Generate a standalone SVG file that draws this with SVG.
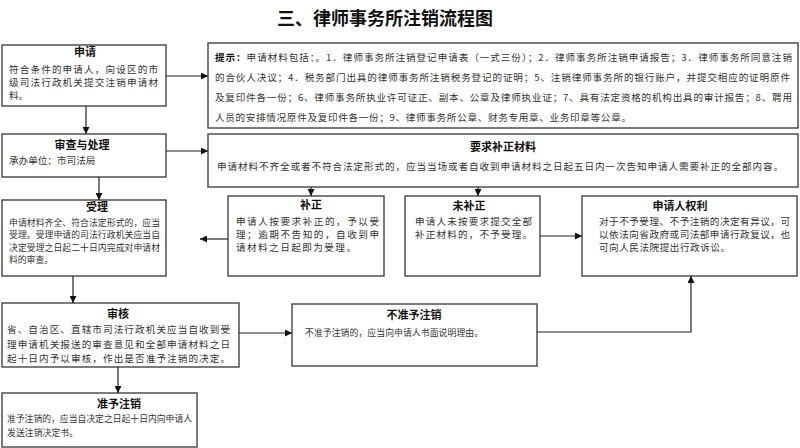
<svg xmlns="http://www.w3.org/2000/svg" width="800" height="448" viewBox="0 0 800 448">
<defs>
<marker id="arr" viewBox="0 0 10 10" refX="10" refY="5" markerWidth="7" markerHeight="7" markerUnits="userSpaceOnUse" orient="auto">
<path d="M0,0 L10,5 L0,10 z" fill="#111"/>
</marker>
<style>
.box{fill:#fff;stroke:#444;stroke-width:1.4}
.t{font-family:"Noto Sans CJK SC","Liberation Sans",sans-serif;font-size:11px;font-weight:bold;fill:#111;text-anchor:middle}
.b{font-family:"Noto Sans CJK SC","Liberation Sans",sans-serif;font-size:9.6px;fill:#333}
.s{font-size:8.8px}
.c{fill:none;stroke:#222;stroke-width:1.2}
.title{font-family:"Noto Sans CJK SC","Liberation Sans",sans-serif;font-size:18px;font-weight:bold;fill:#111;text-anchor:middle}
</style>
</defs>
<rect width="800" height="448" fill="#fff"/>
<text class="title" x="385" y="25">三、律师事务所注销流程图</text>

<g id="apply">
<rect class="box" x="2" y="45" width="164" height="61"/>
<text class="t" x="85" y="56">申请</text>
<text class="b" x="9" y="73" textLength="149" lengthAdjust="spacing">符合条件的申请人，向设区的市</text>
<text class="b" x="9" y="86" textLength="149" lengthAdjust="spacing">级司法行政机关提交注销申请材</text>
<text class="b" x="9" y="99">料。</text>
</g>

<g id="hint">
<rect class="box" x="208" y="43" width="590" height="85"/>
<text class="b" x="215" y="61" textLength="577" lengthAdjust="spacing"><tspan font-weight="bold" fill="#111">提示：</tspan>申请材料包括：。1．律师事务所注销登记申请表（一式三份）；2．律师事务所注销申请报告；3．律师事务所同意注销</text>
<text class="b" x="215" y="81" textLength="575" lengthAdjust="spacing">的合伙人决议；4．税务部门出具的律师事务所注销税务登记的证明；5、注销律师事务所的银行账户，并提交相应的证明原件</text>
<text class="b" x="215" y="101" textLength="577" lengthAdjust="spacing">及复印件各一份；6、律师事务所执业许可证正、副本、公章及律师执业证；7、具有法定资格的机构出具的审计报告；8、聘用</text>
<text class="b" x="215" y="121" textLength="416" lengthAdjust="spacing">人员的安排情况原件及复印件各一份；9、律师事务所公章、财务专用章、业务印章等公章。</text>
</g>

<g id="review">
<rect class="box" x="2" y="134" width="164" height="43"/>
<text class="t" x="82" y="149">审查与处理</text>
<text class="b" x="9" y="164">承办单位：市司法局</text>
</g>

<g id="require">
<rect class="box" x="208" y="134" width="590" height="53"/>
<text class="t" x="503" y="151">要求补正材料</text>
<text class="b" x="217" y="170" textLength="566" lengthAdjust="spacing">申请材料不齐全或者不符合法定形式的，应当当场或者自收到申请材料之日起五日内一次告知申请人需要补正的全部内容。</text>
</g>

<g id="accept">
<rect class="box" x="2" y="200" width="164" height="76"/>
<text class="t" x="97" y="211">受理</text>
<text class="b s" x="9" y="226" textLength="151" lengthAdjust="spacing">申请材料齐全、符合法定形式的，应当</text>
<text class="b s" x="9" y="238" textLength="151" lengthAdjust="spacing">受理。受理申请的司法行政机关应当自</text>
<text class="b s" x="9" y="251" textLength="151" lengthAdjust="spacing">决定受理之日起二十日内完成对申请材</text>
<text class="b s" x="9" y="263">料的审查。</text>
</g>

<g id="corrected">
<rect class="box" x="228" y="196" width="156" height="80"/>
<text class="t" x="311" y="209">补正</text>
<text class="b" x="236" y="225" textLength="143" lengthAdjust="spacing">申请人按要求补正的，予以受</text>
<text class="b" x="236" y="238" textLength="143" lengthAdjust="spacing">理；逾期不告知的，自收到申</text>
<text class="b" x="236" y="251" textLength="120" lengthAdjust="spacing">请材料之日起即为受理。</text>
</g>

<g id="notcorrected">
<rect class="box" x="405" y="196" width="135" height="80"/>
<text class="t" x="469" y="210">未补正</text>
<text class="b" x="415" y="225" textLength="117" lengthAdjust="spacing">申请人未按要求提交全部</text>
<text class="b" x="415" y="238" textLength="117" lengthAdjust="spacing">补正材料的，不予受理。</text>
</g>

<g id="rights">
<rect class="box" x="582" y="196" width="215" height="80"/>
<text class="t" x="680" y="210">申请人权利</text>
<text class="b" x="599" y="225" textLength="191" lengthAdjust="spacing">对于不予受理、不予注销的决定有异议，可</text>
<text class="b" x="599" y="238" textLength="191" lengthAdjust="spacing">以依法向省政府或司法部申请行政复议，也</text>
<text class="b" x="599" y="251" textLength="131" lengthAdjust="spacing">可向人民法院提出行政诉讼。</text>
</g>

<g id="audit">
<rect class="box" x="2" y="303" width="237" height="64"/>
<text class="t" x="118" y="318">审核</text>
<text class="b" x="7" y="333" textLength="223" lengthAdjust="spacing">省、自治区、直辖市司法行政机关应当自收到受</text>
<text class="b" x="7" y="348" textLength="223" lengthAdjust="spacing">理申请机关报送的审查意见和全部申请材料之日</text>
<text class="b" x="7" y="362" textLength="223" lengthAdjust="spacing">起十日内予以审核，作出是否准予注销的决定。</text>
</g>

<g id="deny">
<rect class="box" x="292" y="304" width="245" height="62"/>
<text class="t" x="414" y="319">不准予注销</text>
<text class="b s" x="305" y="336" textLength="178" lengthAdjust="spacing">不准予注销的，应当向申请人书面说明理由。</text>
</g>

<g id="grant">
<rect class="box" x="2" y="393" width="195" height="54"/>
<text class="t" x="119" y="408">准予注销</text>
<text class="b s" x="7" y="422" textLength="185" lengthAdjust="spacing">准予注销的，应当自决定之日起十日内向申请人</text>
<text class="b s" x="7" y="436" textLength="71" lengthAdjust="spacing">发送注销决定书。</text>
</g>

<g id="connectors">
<line class="c" x1="166" y1="76" x2="208" y2="76" marker-end="url(#arr)"/>
<line class="c" x1="86" y1="106" x2="86" y2="134" marker-end="url(#arr)"/>
<line class="c" x1="166" y1="151" x2="208" y2="151" marker-end="url(#arr)"/>
<line class="c" x1="99" y1="177" x2="99" y2="200" marker-end="url(#arr)"/>
<line class="c" x1="311" y1="187" x2="311" y2="196" marker-end="url(#arr)"/>
<line class="c" x1="478" y1="187" x2="478" y2="196" marker-end="url(#arr)"/>
<line class="c" x1="228" y1="239" x2="200" y2="239" marker-end="url(#arr)"/>
<line class="c" x1="540" y1="236" x2="582" y2="236" marker-end="url(#arr)"/>
<line class="c" x1="73" y1="276" x2="73" y2="303" marker-end="url(#arr)"/>
<line class="c" x1="239" y1="333" x2="292" y2="333" marker-end="url(#arr)"/>
<polyline class="c" points="537,332 691,332 691,276" marker-end="url(#arr)"/>
<line class="c" x1="118" y1="367" x2="118" y2="393" marker-end="url(#arr)"/>
</g>
</svg>
